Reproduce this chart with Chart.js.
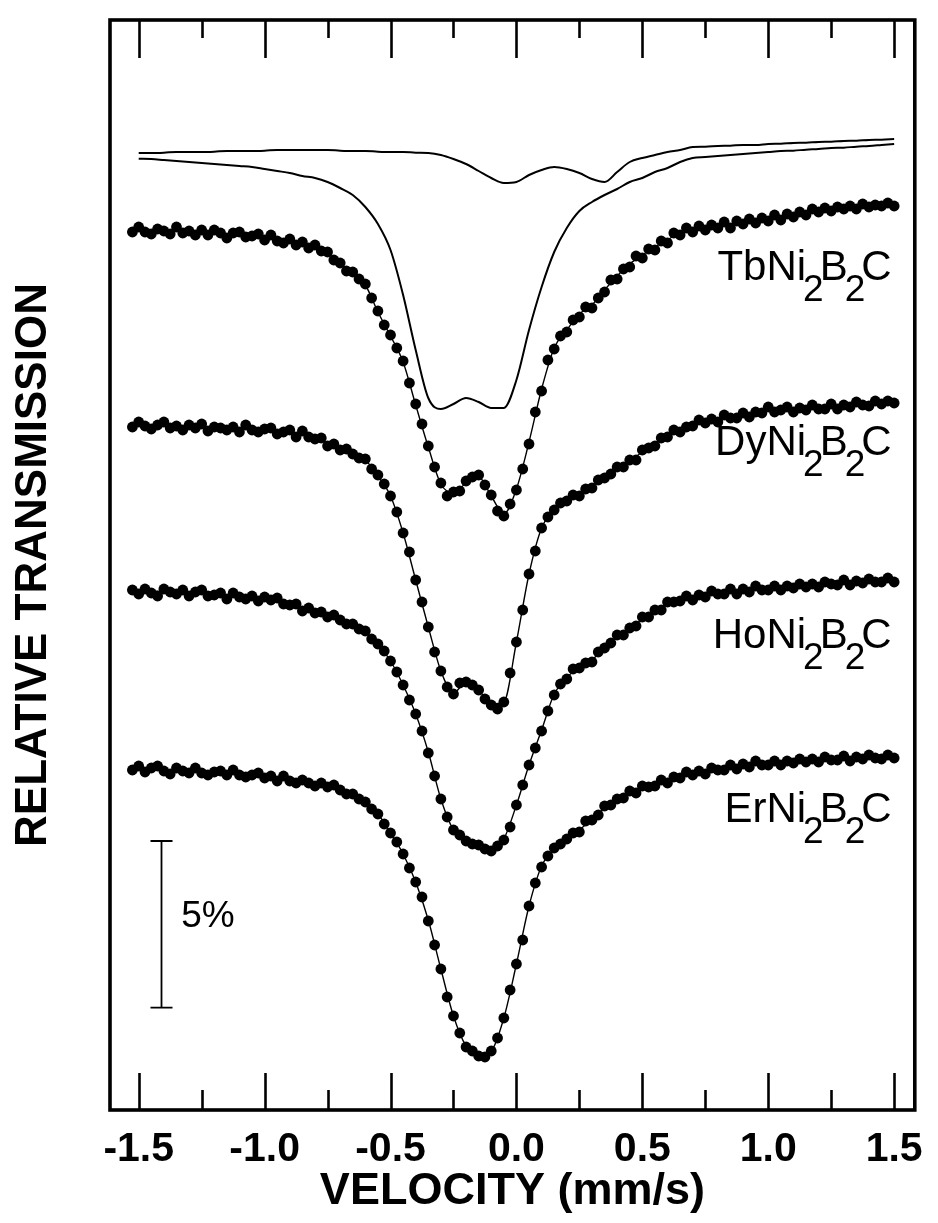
<!DOCTYPE html>
<html><head><meta charset="utf-8">
<script src="https://cdn.jsdelivr.net/npm/chart.js@4/dist/chart.umd.min.js"></script>
<style>html,body{margin:0;padding:0;background:#fff;}#wrap{width:938px;height:1223px;position:relative;}canvas{display:block;}</style>
</head><body><div id="wrap"><canvas id="c" width="938" height="1223"></canvas></div>
<script>
// ---- velocity channels (mm/s) of the measured points ----
const velocity = [
-1.525,-1.5,-1.475,-1.45,-1.425,-1.4,-1.375,-1.35,-1.325,-1.3,
-1.275,-1.25,-1.225,-1.2,-1.175,-1.15,-1.125,-1.1,-1.075,-1.05,
-1.025,-1.0,-0.975,-0.95,-0.925,-0.9,-0.875,-0.85,-0.825,-0.8,
-0.775,-0.75,-0.725,-0.7,-0.675,-0.65,-0.625,-0.6,-0.575,-0.55,
-0.525,-0.5,-0.475,-0.45,-0.425,-0.4,-0.375,-0.35,-0.325,-0.3,
-0.275,-0.25,-0.225,-0.2,-0.175,-0.15,-0.125,-0.1,-0.075,-0.05,
-0.025,0,0.025,0.05,0.075,0.1,0.125,0.15,0.175,0.2,
0.225,0.25,0.275,0.3,0.325,0.35,0.375,0.4,0.425,0.45,
0.475,0.5,0.525,0.55,0.575,0.6,0.625,0.65,0.675,0.7,
0.725,0.75,0.775,0.8,0.825,0.85,0.875,0.9,0.925,0.95,
0.975,1.0,1.025,1.05,1.075,1.1,1.125,1.15,1.175,1.2,
1.225,1.25,1.275,1.3,1.325,1.35,1.375,1.4,1.425,1.45,
1.475,1.5];

// ---- measured spectra: depth below top of frame, in % (stacked) ----
const tbPoints = [
6.36,6.21,6.36,6.42,6.27,6.33,6.42,6.21,6.39,6.33,
6.45,6.30,6.45,6.30,6.39,6.54,6.39,6.36,6.51,6.48,
6.42,6.60,6.45,6.63,6.69,6.57,6.75,6.66,6.84,6.75,
6.93,6.96,7.20,7.29,7.53,7.56,7.77,7.92,8.34,8.73,
9.15,9.45,9.84,10.23,10.89,11.52,12.12,12.78,13.41,13.89,
14.28,14.16,14.13,13.83,13.71,13.65,13.95,14.25,14.73,14.88,
14.52,14.10,13.47,12.72,11.76,11.13,10.20,9.87,9.48,9.36,
9.00,8.91,8.61,8.64,8.34,8.16,7.80,7.77,7.47,7.41,
7.08,7.14,6.87,6.90,6.63,6.69,6.39,6.45,6.24,6.36,
6.18,6.30,6.15,6.24,6.06,6.24,6.03,6.12,5.97,6.09,
5.94,6.03,5.85,6.00,5.82,5.91,5.76,5.85,5.67,5.76,
5.64,5.73,5.61,5.67,5.58,5.67,5.52,5.61,5.55,5.58,
5.49,5.58];
const dyPoints = [
12.21,12.06,12.18,12.27,12.15,12.06,12.24,12.18,12.30,12.15,
12.24,12.12,12.33,12.21,12.24,12.30,12.21,12.36,12.15,12.30,
12.36,12.27,12.24,12.42,12.36,12.30,12.51,12.33,12.51,12.57,
12.54,12.78,12.72,12.90,12.87,13.02,13.14,13.17,13.47,13.65,
13.92,14.28,14.76,15.39,15.96,16.80,17.46,18.21,18.96,19.53,
20.01,20.22,19.89,19.86,19.95,20.10,20.37,20.55,20.67,20.46,
19.59,18.66,17.70,16.62,15.93,15.24,14.91,14.70,14.49,14.43,
14.25,14.28,14.07,14.04,13.80,13.74,13.62,13.41,13.41,13.20,
13.20,12.90,12.84,12.78,12.54,12.51,12.30,12.36,12.21,12.18,
12.00,12.09,11.97,12.06,11.85,11.94,11.94,11.79,11.91,11.76,
11.79,11.61,11.76,11.70,11.61,11.76,11.64,11.70,11.55,11.67,
11.67,11.52,11.67,11.55,11.61,11.46,11.55,11.58,11.43,11.52,
11.43,11.49];
const hoPoints = [
17.10,17.22,17.07,17.19,17.28,17.07,17.16,17.22,17.10,17.28,
17.16,17.10,17.28,17.25,17.19,17.37,17.19,17.31,17.37,17.28,
17.43,17.31,17.40,17.34,17.52,17.55,17.52,17.73,17.64,17.79,
17.76,17.91,17.85,18.00,18.12,18.12,18.27,18.33,18.57,18.72,
18.93,19.23,19.56,19.95,20.40,20.82,21.33,21.99,22.68,23.37,
23.91,24.30,24.45,24.63,24.72,24.75,24.87,24.93,24.78,24.60,
24.21,23.55,22.95,22.35,21.84,21.33,20.73,20.25,19.92,19.77,
19.47,19.44,19.29,19.26,18.96,18.84,18.69,18.45,18.45,18.24,
18.18,17.91,17.91,17.70,17.70,17.46,17.46,17.43,17.28,17.40,
17.25,17.31,17.13,17.22,17.22,17.07,17.22,17.07,17.16,16.98,
17.10,17.10,16.98,17.10,16.98,17.04,16.92,17.01,16.92,17.01,
16.86,16.92,16.95,16.80,16.95,16.83,16.89,16.77,16.86,16.86,
16.74,16.86];
const erPoints = [
22.50,22.38,22.56,22.44,22.38,22.53,22.62,22.44,22.53,22.59,
22.44,22.59,22.65,22.56,22.53,22.65,22.50,22.65,22.71,22.65,
22.59,22.74,22.68,22.83,22.68,22.83,22.89,22.80,22.89,22.98,
22.89,23.01,22.95,23.10,23.22,23.22,23.37,23.46,23.67,23.82,
24.12,24.39,24.66,25.02,25.44,25.86,26.31,27.03,27.75,28.47,
29.31,29.88,30.39,30.81,30.93,31.08,31.11,30.93,30.54,29.94,
29.10,28.32,27.60,26.58,25.89,25.41,25.08,24.84,24.72,24.57,
24.39,24.36,24.03,24.00,23.85,23.58,23.55,23.37,23.34,23.13,
23.19,22.98,23.01,22.98,22.80,22.89,22.71,22.74,22.56,22.65,
22.53,22.62,22.44,22.50,22.50,22.35,22.47,22.32,22.41,22.23,
22.35,22.35,22.23,22.35,22.23,22.29,22.17,22.26,22.17,22.26,
22.11,22.20,22.20,22.08,22.23,22.11,22.17,22.05,22.14,22.17,
22.05,22.14];

// ---- fitted curves ----
const fitVelocity = [
-1.5,-1.45,-1.4,-1.35,-1.3,-1.25,-1.2,-1.15,-1.1,-1.05,
-1.0,-0.95,-0.9,-0.85,-0.8,-0.75,-0.7,-0.65,-0.6,-0.55,
-0.5,-0.45,-0.4,-0.35,-0.3,-0.25,-0.2,-0.15,-0.1,-0.05,
0,0.05,0.1,0.15,0.2,0.25,0.3,0.35,0.4,0.45,
0.5,0.55,0.6,0.65,0.7,0.75,0.8,0.85,0.9,0.95,
1.0,1.05,1.1,1.15,1.2,1.25,1.3,1.35,1.4,1.45,
1.5];
const tbFit = [
6.30,6.30,6.33,6.33,6.36,6.36,6.39,6.42,6.45,6.45,
6.51,6.57,6.63,6.72,6.78,6.99,7.32,7.59,7.95,8.76,
9.48,10.26,11.55,12.81,13.92,14.19,13.89,13.71,14.28,14.82,
14.07,12.66,11.07,9.84,9.30,8.82,8.55,8.10,7.68,7.32,
7.05,6.81,6.60,6.36,6.30,6.24,6.18,6.12,6.06,6.03,
5.97,5.91,5.85,5.76,5.70,5.67,5.64,5.61,5.58,5.55,
5.55];
const dyFit = [
12.15,12.18,12.18,12.18,12.21,12.21,12.24,12.24,12.27,12.27,
12.30,12.33,12.36,12.42,12.51,12.69,12.84,12.99,13.20,13.68,
14.28,15.39,16.80,18.21,19.53,20.19,19.86,20.10,20.52,20.46,
18.66,16.62,15.24,14.70,14.40,14.22,13.98,13.71,13.50,13.23,
12.96,12.69,12.48,12.30,12.09,12.03,11.97,11.91,11.85,11.79,
11.70,11.70,11.67,11.64,11.64,11.58,11.58,11.55,11.52,11.49,
11.46];
const hoFit = [
17.13,17.13,17.16,17.16,17.19,17.19,17.22,17.25,17.28,17.31,
17.37,17.43,17.52,17.64,17.73,17.85,17.97,18.15,18.36,18.72,
19.23,19.95,20.82,21.96,23.37,24.30,24.60,24.78,24.90,24.57,
23.55,22.35,21.30,20.22,19.74,19.38,19.20,18.81,18.51,18.27,
17.97,17.73,17.52,17.37,17.31,17.25,17.19,17.13,17.10,17.07,
17.04,17.01,16.98,16.95,16.92,16.89,16.86,16.86,16.83,16.80,
16.80];
const erFit = [
22.44,22.47,22.50,22.50,22.53,22.56,22.59,22.59,22.62,22.65,
22.68,22.74,22.80,22.86,22.89,22.95,23.07,23.25,23.49,23.82,
24.39,25.02,25.86,27.00,28.47,29.88,30.78,31.05,30.93,29.94,
28.32,26.58,25.38,24.87,24.57,24.30,23.97,23.64,23.40,23.19,
23.04,22.92,22.80,22.68,22.59,22.53,22.47,22.41,22.35,22.32,
22.29,22.26,22.23,22.20,22.17,22.17,22.14,22.14,22.11,22.11,
22.11];
// TbNi2B2C sub-spectra (two components)
const tbSubDoublet = [
3.99,3.99,3.98,3.96,3.96,3.96,3.95,3.93,3.93,3.93,
3.92,3.90,3.90,3.90,3.90,3.90,3.92,3.93,3.93,3.95,
3.96,3.96,3.98,3.99,4.05,4.17,4.32,4.53,4.74,4.89,
4.86,4.65,4.50,4.41,4.47,4.59,4.77,4.86,4.56,4.26,
4.14,4.05,3.96,3.90,3.81,3.80,3.78,3.77,3.75,3.75,
3.72,3.71,3.69,3.68,3.66,3.65,3.63,3.62,3.60,3.59,
3.57];
const tbSubMain = [
4.16,4.17,4.20,4.23,4.26,4.29,4.32,4.35,4.38,4.41,
4.47,4.53,4.59,4.68,4.74,4.86,5.04,5.25,5.61,6.12,
6.90,8.25,9.90,11.34,11.67,11.52,11.34,11.46,11.64,11.64,
10.80,9.30,8.01,6.96,6.24,5.73,5.46,5.25,5.07,4.86,
4.74,4.56,4.44,4.26,4.14,4.11,4.08,4.05,4.02,3.99,
3.96,3.93,3.92,3.89,3.87,3.84,3.83,3.80,3.78,3.75,
3.72];

const compounds = ['Tb', 'Dy', 'Ho', 'Er'];
const majorTicks = [-1.5, -1.0, -0.5, 0, 0.5, 1.0, 1.5];
const minorTicks = [-1.25, -0.75, -0.25, 0.25, 0.75, 1.25];
const scaleBarPercent = 5;

const pts = (xs, ys) => xs.map((x, i) => ({x: x, y: ys[i]}));
const FONT = '"Liberation Sans", Arial, Helvetica, sans-serif';

const dotStyle = {showLine: false, pointRadius: 5.4, pointBackgroundColor: '#000', pointBorderWidth: 0, pointStyle: 'circle'};
const fitStyle = {showLine: true, pointRadius: 0, borderColor: '#000', borderWidth: 1.4, cubicInterpolationMode: 'monotone', fill: false};
const subStyle = Object.assign({}, fitStyle, {borderWidth: 2});

const decor = {
  id: 'decor',
  afterDatasetsDraw(chart, args, o) {
    const {ctx, chartArea: a, scales: {x, y}} = chart;
    ctx.save();
    ctx.strokeStyle = '#000'; ctx.fillStyle = '#000';
    // inward ticks
    ctx.lineWidth = 2.6;
    const drawTicks = (list, lenTop, lenBot) => list.forEach(v => {
      const px = Math.round(x.getPixelForValue(v)) + 0.5;
      ctx.beginPath(); ctx.moveTo(px, a.top); ctx.lineTo(px, a.top + lenTop); ctx.stroke();
      ctx.beginPath(); ctx.moveTo(px, a.bottom); ctx.lineTo(px, a.bottom - lenBot); ctx.stroke();
    });
    drawTicks(majorTicks, 38, 37);
    drawTicks(minorTicks, 18, 20);
    // frame
    ctx.lineWidth = 3.6;
    ctx.strokeRect(a.left, a.top, a.right - a.left, a.bottom - a.top);
    // compound labels
    o.labels.forEach((lab, i) => {
      const name = compounds[i];
      const segs = [[name + 'Ni', 0], ['2', 1], ['B', 0], ['2', 1], ['C', 0]];
      const main = '42px ' + FONT, sub = '37px ' + FONT;
      let w = 0; const adv = [];
      segs.forEach(([t, s]) => { ctx.font = s ? sub : main; const m = ctx.measureText(t).width; const ad = s ? m * 0.66 : m; adv.push([t, s, ad]); w += ad; });
      let cx = x.getPixelForValue(lab.v) - w;
      const by = y.getPixelForValue(lab.d);
      ctx.textAlign = 'left'; ctx.textBaseline = 'alphabetic';
      adv.forEach(([t, s, ad]) => { ctx.font = s ? sub : main; ctx.fillText(t, s ? cx - 3 : cx, s ? by + 21 : by); cx += ad; });
    });
    // 5% scale bar
    const sb = o.scaleBar;
    const bx = Math.round(x.getPixelForValue(sb.v)) + 0.5;
    const y0 = y.getPixelForValue(sb.top), y1 = y.getPixelForValue(sb.top + scaleBarPercent);
    ctx.lineWidth = 1.8;
    ctx.beginPath(); ctx.moveTo(bx, y0); ctx.lineTo(bx, y1);
    ctx.moveTo(bx - 11, y0); ctx.lineTo(bx + 11, y0);
    ctx.moveTo(bx - 11, y1); ctx.lineTo(bx + 11, y1); ctx.stroke();
    ctx.font = '37px ' + FONT; ctx.textAlign = 'left'; ctx.textBaseline = 'middle';
    ctx.fillText(scaleBarPercent + '%', x.getPixelForValue(sb.textV), y.getPixelForValue(sb.textD));
    ctx.restore();
  }
};

Chart.defaults.font.family = FONT;
Chart.defaults.color = '#000';

new Chart(document.getElementById('c'), {
  type: 'scatter',
  data: {
    datasets: [
      Object.assign({label: 'TbNi2B2C', data: pts(velocity, tbPoints)}, dotStyle),
      Object.assign({label: 'DyNi2B2C', data: pts(velocity, dyPoints)}, dotStyle),
      Object.assign({label: 'HoNi2B2C', data: pts(velocity, hoPoints)}, dotStyle),
      Object.assign({label: 'ErNi2B2C', data: pts(velocity, erPoints)}, dotStyle),
      Object.assign({label: 'Tb fit', data: pts(fitVelocity, tbFit)}, fitStyle),
      Object.assign({label: 'Dy fit', data: pts(fitVelocity, dyFit)}, fitStyle),
      Object.assign({label: 'Ho fit', data: pts(fitVelocity, hoFit)}, fitStyle),
      Object.assign({label: 'Er fit', data: pts(fitVelocity, erFit)}, fitStyle),
      Object.assign({label: 'Tb sub 1', data: pts(fitVelocity, tbSubDoublet)}, subStyle),
      Object.assign({label: 'Tb sub 2', data: pts(fitVelocity, tbSubMain)}, subStyle)
    ]
  },
  options: {
    responsive: false, animation: false, events: [],
    layout: {padding: {top: 20, right: 14, left: 0, bottom: 0}},
    plugins: {
      legend: {display: false}, tooltip: {enabled: false},
      decor: {
        labels: [{v: 1.49, d: 7.80}, {v: 1.49, d: 13.05}, {v: 1.49, d: 18.84}, {v: 1.49, d: 24.06}],
        scaleBar: {v: -1.41, top: 24.63, textV: -1.331, textD: 26.9}
      }
    },
    scales: {
      x: {
        type: 'linear', position: 'bottom', min: -1.614, max: 1.582,
        afterBuildTicks: s => { s.ticks = majorTicks.map(v => ({value: v})); },
        afterFit: s => { s.height = 113; },
        grid: {display: false, drawTicks: false}, border: {display: false},
        ticks: {autoSkip: false, maxRotation: 0, padding: 15, font: {size: 41, weight: 'bold'}, color: '#000',
          callback: v => Number(v).toFixed(1)},
        title: {display: true, text: 'VELOCITY (mm/s)', font: {size: 45, weight: 'bold'}, color: '#000', padding: {top: 0, bottom: 4}}
      },
      y: {
        type: 'linear', position: 'left', reverse: true, min: 0, max: 32.7,
        afterFit: s => { s.width = 110; },
        grid: {display: false, drawTicks: false}, border: {display: false},
        ticks: {display: false},
        title: {display: true, text: 'RELATIVE TRANSMISSION', font: {size: 44, weight: 'bold'}, color: '#000', padding: {top: 7, bottom: 0}}
      }
    }
  },
  plugins: [decor]
});
</script></body></html>
